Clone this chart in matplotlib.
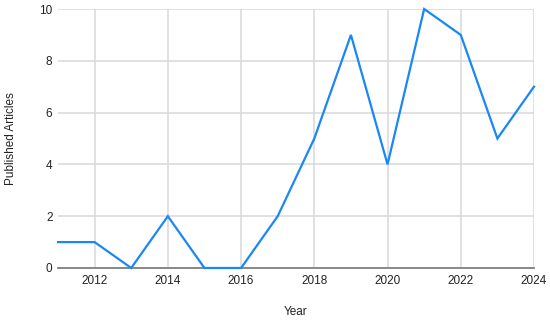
import matplotlib
matplotlib.use("Agg")
import matplotlib.pyplot as plt

years = [2011, 2012, 2013, 2014, 2015, 2016, 2017, 2018, 2019, 2020, 2021, 2022, 2023, 2024]
articles = [1, 1, 0, 2, 0, 0, 2, 5, 9, 4, 10, 9, 5, 7]
xticks = [2012, 2014, 2016, 2018, 2020, 2022, 2024]
yticks = [0, 2, 4, 6, 8, 10]

plt.rcParams['font.family'] = ['Liberation Sans', 'DejaVu Sans']

fig = plt.figure(figsize=(5.5, 3.2), dpi=100)
ax = fig.add_axes([58/550, 52/320, (534-58)/550, (268-9)/320])

ax.plot(years, articles, color='#1a87f5', linewidth=1.6, solid_joinstyle='miter', clip_on=False, zorder=3)

ax.set_xlim(2011, 2024)
ax.set_ylim(0, 10)
ax.set_xticks(xticks)
ax.set_yticks(yticks)
ax.grid(True, color='#d9d9d9', linewidth=1.1)
ax.set_axisbelow(True)
for s in ['left', 'top', 'right']:
    ax.spines[s].set_visible(False)
ax.spines['bottom'].set_color('#808080')
ax.spines['bottom'].set_linewidth(1.3)
ax.tick_params(axis='both', length=0, labelsize=8.5, colors='#222222')
ax.tick_params(axis='x', pad=5)
ax.tick_params(axis='y', pad=4)
ax.set_xlabel('Year', fontsize=8.5, color='#222222', labelpad=14)
ax.set_ylabel('Published Articles', fontsize=8.5, color='#222222', labelpad=16)

fig.savefig('out.png', dpi=100)
